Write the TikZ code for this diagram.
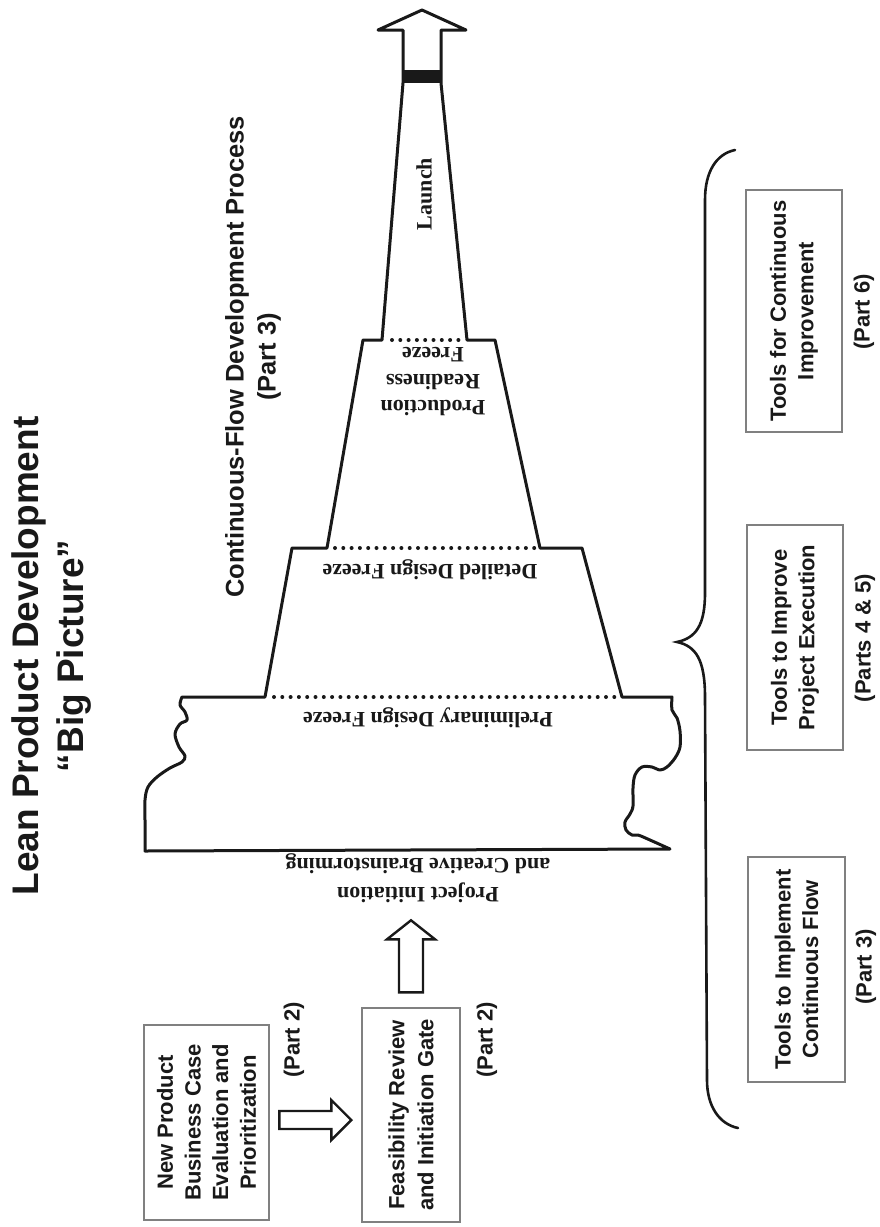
\documentclass[tikz,border=0pt]{standalone}
\usepackage{fontspec}
\setmainfont{Liberation Serif}
\newfontfamily\sansfam{Liberation Sans}
\usetikzlibrary{calc}
\begin{document}
\begin{tikzpicture}[x=1pt,y=-1pt,
  outline/.style={line width=3pt, draw=black!90, line join=round},
  freezeline/.style={line width=4pt, draw=black!90, dash pattern=on 0pt off 8.3pt, line cap=round},
  sanstext/.style={font=\sansfam\bfseries\fontsize{22}{27.6}\selectfont, rotate=90, align=center, inner sep=0pt, text=black!90},
  serftext/.style={font=\bfseries\fontsize{22}{27}\selectfont, align=center, inner sep=0pt, text=black!90},
  infobox/.style={sanstext, draw=black!50, line width=1.4pt},
  blockarrow/.style={line width=2.4pt, draw=black!90, line join=miter, fill=white},
  bracestroke/.style={line width=2.6pt, draw=black!90, line cap=round},
]
\useasboundingbox (0,0) rectangle (879,1227);
\fill[white] (0,0) rectangle (879,1227);

% headings
\node[sanstext, font=\sansfam\bfseries\fontsize{37}{45}\selectfont] (title) at (52,656)
  {Lean Product Development\\“Big Picture”};
\node[sanstext, font=\sansfam\bfseries\fontsize{25.5}{32}\selectfont] (cfdp) at (253,357)
  {Continuous-Flow Development Process\\(Part 3)};

% front-end boxes
\node[infobox, minimum width=195pt, minimum height=125pt] (b1) at (206.5,1122.5)
  {New Product\\Business Case\\Evaluation and\\Prioritization};
\node[infobox, minimum width=214pt, minimum height=98pt,
      font=\sansfam\bfseries\fontsize{22}{29}\selectfont] (b2) at (411,1115)
  {Feasibility Review\\and Initiation Gate};
\node[sanstext] (p2a) at (294,1040) {(Part 2)};
\node[sanstext] (p2b) at (487,1040) {(Part 2)};

% tool boxes
\node[infobox, minimum width=225pt, minimum height=97pt] (t1) at (796.5,969.5)
  {Tools to Implement\\Continuous Flow};
\node[infobox, minimum width=225pt, minimum height=96pt] (t2) at (795,637.5)
  {Tools to Improve\\Project Execution};
\node[infobox, minimum width=242pt, minimum height=96pt] (t3) at (794,311)
  {Tools for Continuous\\Improvement};
\node[sanstext] (pt1) at (866,967) {(Part 3)};
\node[sanstext] (pt2) at (865,638) {(Parts 4 \& 5)};
\node[sanstext] (pt3) at (864,312) {(Part 6)};

% stepped development tower
\draw[outline] (182,697) -- (265,697) -- (292,548) -- (327,548) -- (363,340) -- (382,340)
  -- (403,83) -- (403,30) -- (378,30) -- (422,10) -- (466,30) -- (441,30) -- (441,83)
  -- (467,340) -- (495,340) -- (540,548) -- (582,548) -- (622,697) -- (672,697)
  -- plot[smooth, tension=0.55] coordinates {(672,697) (672,710) (677,718) (680,731) (680,747)
     (675,758) (667,767) (660,770) (652,767) (642,767) (635,775) (633,788) (633,806)
     (630,814) (625,822) (626,830) (632,835) (638,835) (650,840) (670,849)}
  -- (145,851)
  -- plot[smooth, tension=0.55] coordinates {(145,851) (145,820) (145,800) (148,787)
     (157,777) (170,768) (182,762) (185,756) (179,747) (175,734) (180,724) (187,720)
     (185,712) (180,705) (182,697)}
  -- cycle;
\fill[black!90] (403,70) rectangle (441,83);

% freeze gates
\draw[freezeline] (392,340) -- (460,340);
\draw[freezeline] (335,548) -- (536,548);
\draw[freezeline] (274,697) -- (616,697);

% stage labels
\node[serftext, rotate=90] (launch) at (424,194) {Launch};
\node[serftext, rotate=180, font=\bfseries\fontsize{22}{26.5}\selectfont] (prf) at (433,382)
  {Production\\Readiness\\Freeze};
\node[serftext, rotate=180] (ddf) at (430,570) {Detailed Design Freeze};
\node[serftext, rotate=180] (pdf) at (428,718) {Preliminary Design Freeze};
\node[serftext, rotate=180, font=\bfseries\fontsize{22}{29}\selectfont] (pib) at (418,878)
  {Project Initiation\\and Creative Brainstorming};

% block arrows
\coordinate (a1tip) at ($(b2.north)+(-10,5)$);
\draw[blockarrow] (a1tip) -- ++(-20,-20) -- ++(0,11) -- ++(-52,0) -- ++(0,18)
  -- ++(52,0) -- ++(0,11) -- cycle;
\coordinate (a2tip) at ($(b2.east)+(0,-87)$);
\draw[blockarrow] (a2tip) -- ++(24,19) -- ++(-12,0) -- ++(0,53) -- ++(-24,0)
  -- ++(0,-53) -- ++(-12,0) -- cycle;

% brace grouping the tool boxes
\draw[bracestroke] (735,150) .. controls (716,154) and (705,172) .. (705,200) -- (705,593)
  .. controls (705,625) and (696,638) .. (677,642)
  .. controls (696,646) and (705,660) .. (705,697) -- (707,1080)
  .. controls (707,1106) and (719,1124) .. (738,1128);
\end{tikzpicture}
\end{document}
